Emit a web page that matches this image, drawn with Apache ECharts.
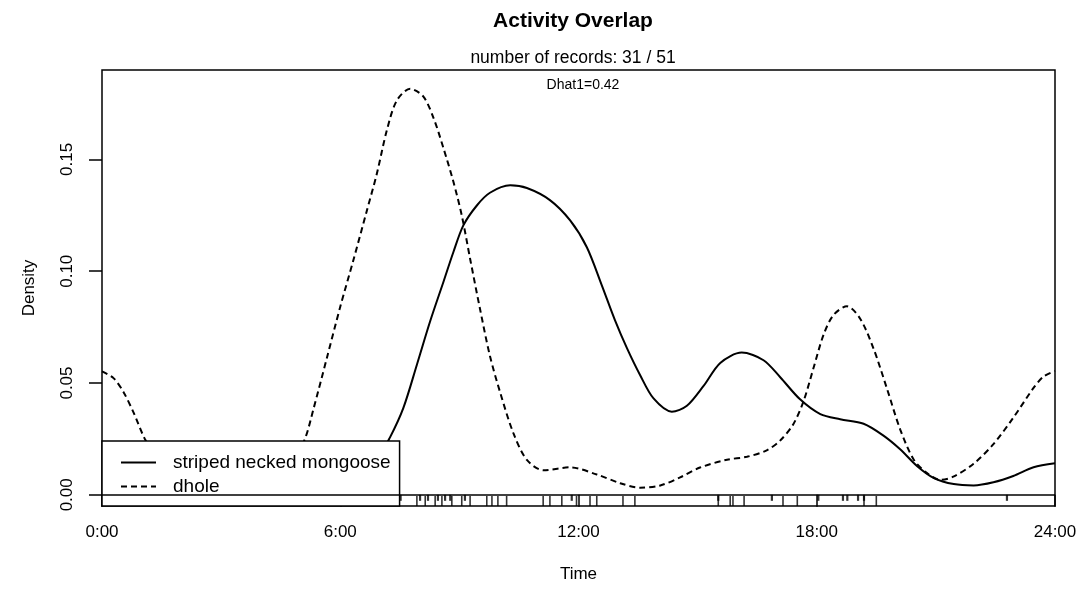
<!DOCTYPE html>
<html><head><meta charset="utf-8">
<script src="https://cdn.jsdelivr.net/npm/echarts@6/dist/echarts.min.js"></script>
<style>html,body{margin:0;padding:0;background:#fff}#c{width:1088px;height:593px}</style>
</head><body><div id="c"></div>
<script>
// ---- data ----
const titleText = 'Activity Overlap';
const subtitleText = 'number of records: 31 / 51';
const overlapText = 'Dhat1=0.42';
const seriesNames = ['striped necked mongoose', 'dhole'];
const hourTicks = [0, 6, 12, 18, 24];
const densityTicks = [0, 0.05, 0.10, 0.15];

const mongooseHours = [0, 1, 2, 3, 4, 5, 5.8, 6.4, 6.9, 7.25, 7.59, 7.93, 8.26, 8.6, 8.85, 9.1, 9.44, 9.77, 10.28, 10.7, 11.28, 11.79, 12.21, 12.58, 12.92, 13.22, 13.55, 13.89, 14.35, 14.73, 15.15, 15.57, 16.11, 16.66, 17.08, 17.58, 18.09, 18.59, 19.18, 19.68, 20.1, 20.53, 20.95, 21.45, 21.95, 22.45, 22.95, 23.46, 24];
const mongooseDensity = [0.0141, 0.012, 0.009, 0.006, 0.004, 0.003, 0.004, 0.007, 0.015, 0.0256, 0.0389, 0.0582, 0.0774, 0.0953, 0.1086, 0.1205, 0.1294, 0.1351, 0.1384, 0.1372, 0.1318, 0.1227, 0.1107, 0.094, 0.078, 0.0656, 0.0536, 0.0431, 0.0372, 0.0398, 0.0487, 0.059, 0.0636, 0.0602, 0.0526, 0.0427, 0.0361, 0.0338, 0.0318, 0.0265, 0.0204, 0.0128, 0.0075, 0.0048, 0.0042, 0.0056, 0.0084, 0.0123, 0.0141];

const dholeHours = [0, 0.29, 0.54, 0.79, 1.08, 1.5, 2, 2.5, 3, 3.5, 4, 4.5, 4.8, 5.11, 5.32, 5.66, 6, 6.33, 6.67, 6.92, 7.17, 7.42, 7.76, 8.09, 8.35, 8.6, 8.85, 9.06, 9.27, 9.52, 9.77, 10.03, 10.36, 10.7, 11.12, 11.79, 12.46, 13.05, 13.55, 14.06, 14.56, 15.06, 15.74, 16.24, 16.74, 17.08, 17.41, 17.67, 17.92, 18.17, 18.42, 18.76, 19.09, 19.43, 19.77, 20.1, 20.44, 20.77, 21.11, 21.44, 21.95, 22.45, 22.95, 23.46, 23.71, 24];
const dholeDensity = [0.0552, 0.0522, 0.046, 0.037, 0.025, 0.013, 0.006, 0.003, 0.002, 0.002, 0.004, 0.009, 0.015, 0.025, 0.038, 0.061, 0.0841, 0.1049, 0.1271, 0.1435, 0.1628, 0.1762, 0.1816, 0.1782, 0.1685, 0.155, 0.14, 0.125, 0.1056, 0.0831, 0.0621, 0.0456, 0.0276, 0.0156, 0.011, 0.0123, 0.0091, 0.0052, 0.0032, 0.0042, 0.0078, 0.0122, 0.0157, 0.017, 0.0199, 0.0243, 0.0316, 0.042, 0.0568, 0.0715, 0.0804, 0.0843, 0.0789, 0.0654, 0.0474, 0.0293, 0.0158, 0.0098, 0.0067, 0.0081, 0.0139, 0.0227, 0.0345, 0.0478, 0.0529, 0.0554];

// record times (rug), hours
const mongooseRecords = [7.93, 8.14, 8.39, 8.56, 8.81, 9.06, 9.27, 9.69, 9.82, 9.97, 10.19, 11.11, 11.28, 11.58, 11.95, 12.29, 12.46, 13.12, 13.42, 15.52, 15.82, 15.89, 16.17, 17.15, 17.51, 19.19, 19.5];
const dholeRecords = [7.52, 8.01, 8.21, 8.46, 8.64, 8.77, 9.14, 11.83, 15.52, 16.87, 18.04, 18.66, 18.77, 19.04, 19.19, 22.79];

// ---- chart ----
const F = '"Liberation Sans", Arial, Helvetica, sans-serif';
const Y_MIN = -0.005, Y_MAX = 0.19;
const zip = (xs, ys) => xs.map((x, i) => [x, ys[i]]);

const chart = echarts.init(document.getElementById('c'), null, {renderer: 'canvas'});
chart.setOption({
  animation: false,
  backgroundColor: '#fff',
  textStyle: {fontFamily: F, color: '#000'},
  title: [
    {text: titleText, left: 573, top: 11, textAlign: 'center', padding: 0,
     textStyle: {fontFamily: F, fontSize: 21, fontWeight: 'bold', color: '#000'}},
    {text: subtitleText, left: 573, top: 49, textAlign: 'center', padding: 0,
     textStyle: {fontFamily: F, fontSize: 17.5, fontWeight: 'normal', color: '#000'}},
    {text: overlapText, left: 583, top: 78, textAlign: 'center', padding: 0,
     textStyle: {fontFamily: F, fontSize: 14, fontWeight: 'normal', color: '#000'}}
  ],
  grid: {left: 102, right: 33, top: 70, bottom: 87, show: true,
         borderColor: '#000', borderWidth: 1.5, backgroundColor: 'transparent'},
  legend: {
    data: seriesNames, orient: 'vertical', left: 102, top: 441,
    itemWidth: 35, itemHeight: 14, itemGap: 5, align: 'left',
    padding: [12, 9, 10, 18], backgroundColor: '#fff', borderColor: '#000',
    borderWidth: 1.5, borderRadius: 0, selectedMode: false,
    itemStyle: {opacity: 0},
    textStyle: {fontFamily: F, fontSize: 19, color: '#000', lineHeight: 19, padding: [0, 0, 0, 12]}
  },
  xAxis: {
    type: 'value', min: 0, max: 24,
    axisLine: {show: false}, splitLine: {show: false},
    axisTick: {show: true, customValues: hourTicks, length: 12, lineStyle: {color: '#000', width: 1.5}},
    axisLabel: {customValues: hourTicks, formatter: v => v + ':00', fontSize: 17, color: '#000', fontFamily: F, margin: 18},
    name: 'Time', nameLocation: 'middle', nameGap: 60,
    nameTextStyle: {fontSize: 17, color: '#000', fontFamily: F}
  },
  yAxis: {
    type: 'value', min: Y_MIN, max: Y_MAX,
    axisLine: {show: false}, splitLine: {show: false},
    axisTick: {show: true, customValues: densityTicks, length: 13, lineStyle: {color: '#000', width: 1.5}},
    axisLabel: {customValues: densityTicks, rotate: 90, formatter: v => v.toFixed(2), fontSize: 17, color: '#000', fontFamily: F, margin: 26},
    name: 'Density', nameLocation: 'middle', nameGap: 64, nameRotate: 90,
    nameTextStyle: {fontSize: 17, color: '#000', fontFamily: F}
  },
  series: [
    {name: seriesNames[0], type: 'line', data: zip(mongooseHours, mongooseDensity),
     symbol: 'none', showSymbol: false, smooth: 0.3, z: 3,
     lineStyle: {color: '#000', width: 2, type: 'solid'}, itemStyle: {color: '#000'}},
    {name: seriesNames[1], type: 'line', data: zip(dholeHours, dholeDensity),
     symbol: 'none', showSymbol: false, smooth: 0.3, z: 3,
     lineStyle: {color: '#000', width: 2, type: [6, 4]}, itemStyle: {color: '#000'}},
    {name: 'mongoose records', type: 'scatter', data: mongooseRecords.map(t => [t, Y_MIN]),
     symbol: 'rect', symbolSize: [1.6, 10], symbolOffset: [0, -5], silent: true, z: 2,
     itemStyle: {color: '#000'}},
    {name: 'dhole records', type: 'scatter', data: dholeRecords.map(t => [t, 0]),
     symbol: 'rect', symbolSize: [2.2, 6], symbolOffset: [0, 3], silent: true, z: 2,
     itemStyle: {color: '#000'},
     markLine: {silent: true, symbol: 'none', label: {show: false},
                lineStyle: {color: '#000', width: 1.5, type: 'solid'}, data: [{yAxis: 0}]}}
  ]
});
</script></body></html>
